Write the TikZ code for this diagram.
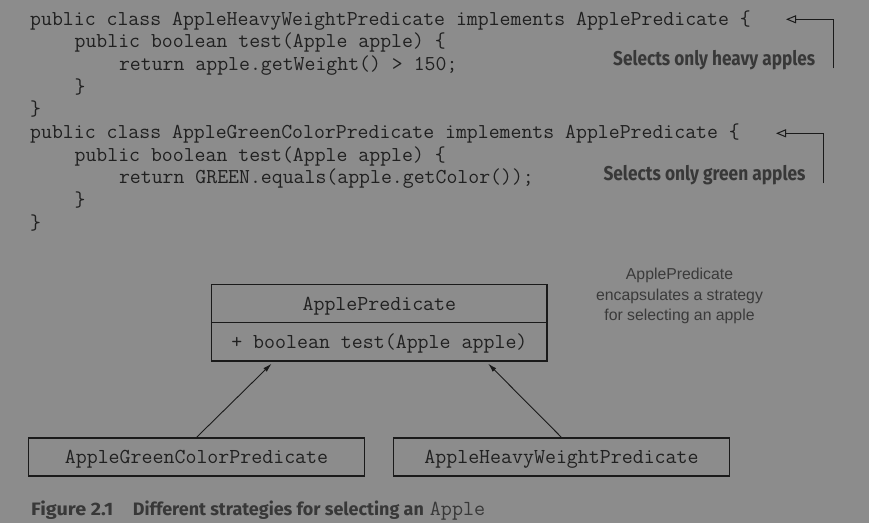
\documentclass[tikz,border=0pt]{standalone}
\usepackage{fontspec}
\usepackage{graphicx}
\setmainfont{Liberation Sans}
\newfontfamily\capfont{Fira Sans}
\usetikzlibrary{arrows.meta}
\definecolor{bg}{HTML}{8C8C8C}
\definecolor{codecol}{HTML}{202020}
\definecolor{annotcol}{HTML}{383838}
\definecolor{notecol}{HTML}{3A3A3A}
\definecolor{linecol}{HTML}{1A1A1A}
\tikzset{
  code/.style={anchor=base west, inner sep=0pt, text=codecol, font=\fontsize{21.2}{24}\selectfont\ttfamily},
  annot/.style={anchor=base west, inner sep=0pt, text=annotcol, font=\capfont\bfseries\fontsize{20}{24}\selectfont},
  notetext/.style={anchor=base, inner sep=0pt, text=notecol, font=\fontsize{15.8}{20.5}\selectfont},
  umlbox/.style={draw=linecol, line width=1.2pt, minimum width=335.3pt, inner sep=0pt, text height=16pt, text depth=3.2pt, text=codecol, font=\fontsize{21.3}{24}\selectfont\ttfamily},
  callout/.style={draw=linecol, line width=1pt, -{Triangle[open, length=10pt, width=8pt]}},
  conn/.style={draw=linecol, line width=0.9pt, -{Latex[length=9pt, width=5pt]}},
  captext/.style={anchor=base west, inner sep=0pt, text=annotcol, font=\capfont\bfseries\fontsize{18}{22}\selectfont}
}
\begin{document}
\begin{tikzpicture}[x=1pt,y=-1pt]
\fill[bg] (0,0) rectangle (869,523);
\useasboundingbox (0,0) rectangle (869,523);

% code
\node[code] (l1) at (30,25) {public class AppleHeavyWeightPredicate implements ApplePredicate \{};
\node[code] (l2) at (74.4,47.7) {public boolean test(Apple apple) \{};
\node[code] (l3) at (118.8,70.4) {return apple.getWeight() > 150;};
\node[code] (l4) at (74.4,93.1) {\}};
\node[code] (l5) at (30,115.8) {\}};
\node[code] (l6) at (30,138.5) {public class AppleGreenColorPredicate implements ApplePredicate \{};
\node[code] (l7) at (74.4,161.2) {public boolean test(Apple apple) \{};
\node[code] (l8) at (118.8,183.9) {return GREEN.equals(apple.getColor());};
\node[code] (l9) at (74.4,206.6) {\}};
\node[code] (l10) at (30,229.3) {\}};

% annotations
\node[annot] (a1) at (613,65.7) {\resizebox{202pt}{\height}{Selects only heavy apples}};
\node[annot] (a2) at (603.3,180) {\resizebox{202pt}{\height}{Selects only green apples}};
\coordinate (c1) at (833.3,68.3);
\coordinate (h1) at (786,19.3);
\coordinate (c2) at (823.3,183.3);
\coordinate (h2) at (776,133.3);
\draw[callout] (c1) |- (h1);
\draw[callout] (c2) |- (h2);

% note
\node[notetext] (nt1) at (679.5,279) {ApplePredicate};
\node[notetext] (nt2) at (679.5,300) {encapsulates a strategy};
\node[notetext] (nt3) at (679.5,320.5) {for selecting an apple};

% UML
\node[umlbox, minimum height=38pt] (ap) at (379.35,303.7) {ApplePredicate};
\node[umlbox, minimum height=38.3pt] (apm) at (379.35,341.85) {+ boolean test(Apple apple)};
\node[umlbox, minimum height=38pt] (gc) at (196.5,457) {AppleGreenColorPredicate};
\node[umlbox, minimum height=38pt] (hw) at (561.5,457) {AppleHeavyWeightPredicate};
\coordinate (t1) at ([xshift=60.5pt,yshift=-2pt]apm.south west);
\coordinate (t2) at ([xshift=-59.5pt,yshift=-2pt]apm.south east);
\draw[conn] (gc.north) -- (t1);
\draw[conn] (hw.north) -- (t2);

% caption
\node[captext] (cap) at (31,515) {\resizebox{82pt}{\height}{Figure 2.1}\hspace{19.7pt}\resizebox{291pt}{\height}{Different strategies for selecting an}\hspace{6pt}{\fontseries{m}\fontsize{21.5}{22}\selectfont\ttfamily Apple}};
\end{tikzpicture}
\end{document}
